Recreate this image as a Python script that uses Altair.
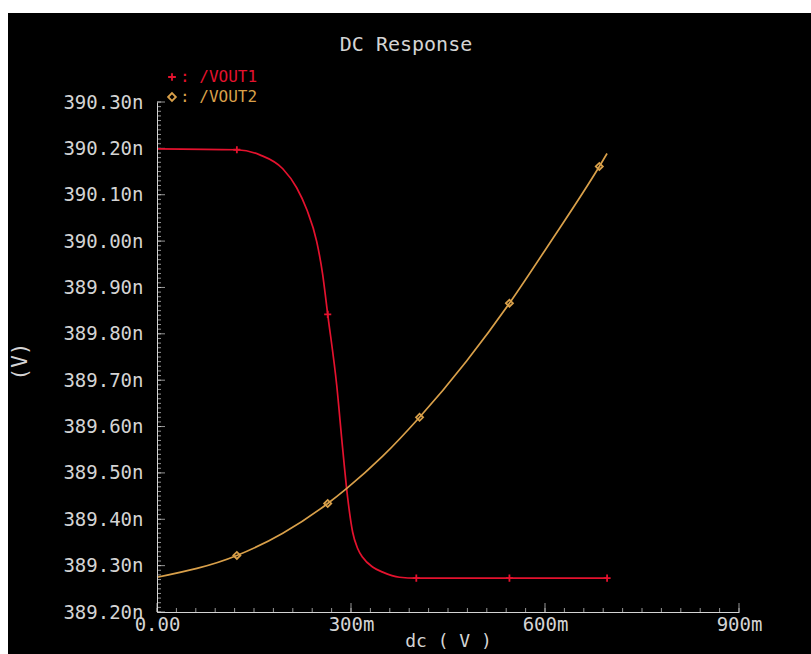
import altair as alt
import pandas as pd

# ---- data ----
dc_vout1 = [0.0, 0.1235, 0.159, 0.1945, 0.216, 0.2316, 0.247, 0.256, 0.264, 0.278,
            0.287, 0.2948, 0.3026, 0.3103, 0.318, 0.3334, 0.349, 0.375, 0.401, 0.545, 0.696]
vout1 = [390.199, 390.197, 390.186, 390.156, 390.115, 390.068, 389.999, 389.930, 389.842, 389.688,
         389.554, 389.447, 389.372, 389.337, 389.318, 389.297, 389.286, 389.275, 389.273, 389.273,
         389.273]
marker_vout1 = [0, 1, 0, 0, 0, 0, 0, 0, 1, 0, 0, 0, 0, 0, 0, 0, 0, 0, 1, 1, 1]

dc_vout2 = [0.0, 0.1235, 0.1945, 0.264, 0.293, 0.349, 0.406, 0.4785, 0.545, 0.607, 0.684, 0.696]
vout2 = [389.275, 389.322, 389.370, 389.434, 389.466, 389.536, 389.620, 389.741, 389.866, 389.995,
         390.161, 390.189]
marker_vout2 = [0, 1, 0, 1, 0, 0, 1, 0, 1, 0, 1, 0]

series_names = ["/VOUT1", "/VOUT2"]
series_colors = ["#e4122e", "#d9a04a"]
series_shapes = ["M-1,0H1M0,-1V1", "diamond"]

x_major = [0.0, 0.3, 0.6, 0.9]
x_minor = [round(0.03 * i, 2) for i in range(31)]
y_major = [389.20, 389.30, 389.40, 389.50, 389.60, 389.70, 389.80, 389.90,
           390.00, 390.10, 390.20, 390.30]
y_minor = [round(389.20 + 0.01 * i, 2) for i in range(111)]

chart_title = "DC Response"

# ---- tables ----
df = pd.concat([
    pd.DataFrame({"series": series_names[0], "dc": dc_vout1, "v": vout1, "marker": marker_vout1}),
    pd.DataFrame({"series": series_names[1], "dc": dc_vout2, "v": vout2, "marker": marker_vout2}),
], ignore_index=True)

FONT = "DejaVu Sans Mono"
GREY = "#d4d4d4"
FS = 19
W, H = 582, 510
PAD = {"left": 157, "top": 102, "right": 72, "bottom": 42}

xscale = alt.Scale(domain=[0, 0.9], nice=False, zero=False)
yscale = alt.Scale(domain=[389.2, 390.3], nice=False, zero=False)
cscale = alt.Scale(domain=series_names, range=series_colors)
sscale = alt.Scale(domain=series_names, range=series_shapes)

x_axis = alt.Axis(values=x_major, grid=False, ticks=False, domainColor=GREY, zindex=2,
                  labelFlush=False, labelOverlap=False,
                  labelExpr="datum.value == 0 ? '0.00' : format(datum.value * 1000, '.0f') + 'm'",
                  labelColor=GREY, labelFont=FONT, labelFontSize=FS, labelPadding=3,
                  title="dc ( V )", titleColor=GREY, titleFont=FONT, titleFontSize=18,
                  titleFontWeight="normal", titlePadding=-2)
y_axis = alt.Axis(values=y_major, grid=False, ticks=False, domainColor=GREY, zindex=2,
                  labelFlush=False, labelOverlap=False,
                  labelExpr="format(datum.value, '.2f') + 'n'",
                  labelColor=GREY, labelFont=FONT, labelFontSize=FS, labelPadding=14,
                  title="(V)", titleColor=GREY, titleFont=FONT, titleFontSize=21,
                  titleFontWeight="normal", titleAngle=-90, titleX=-137, titleY=H / 2 + 4,
                  titleAlign="center", titleBaseline="middle")

background = alt.Chart(pd.DataFrame({"a": [0]})).mark_rect(color="#000000").encode(
    x=alt.value(8 - PAD["left"]), x2=alt.value(811 - PAD["left"]),
    y=alt.value(13 - PAD["top"]), y2=alt.value(654 - PAD["top"]),
)

title_text = alt.Chart(pd.DataFrame({"t": [chart_title]})).mark_text(
    font=FONT, fontSize=20, color=GREY, align="center", baseline="middle").encode(
    text="t:N", x=alt.value(406 - PAD["left"]), y=alt.value(45 - PAD["top"]))

# legend (Cadence style: symbol, colon, trace name)
legend_layers = []
for i, name in enumerate(series_names):
    ly = 77 + 20 * i - PAD["top"]
    legend_layers.append(
        alt.Chart(pd.DataFrame({"s": [name]})).mark_point(
            filled=False, size=60, strokeWidth=1.8, opacity=1).encode(
            x=alt.value(172 - PAD["left"]), y=alt.value(ly),
            color=alt.Color("s:N", scale=cscale, legend=None),
            shape=alt.Shape("s:N", scale=sscale, legend=None)))
    legend_layers.append(
        alt.Chart(pd.DataFrame({"s": [name]})).mark_text(
            font=FONT, fontSize=16, align="left", baseline="middle").encode(
            text=alt.Text("lab:N"), x=alt.value(180 - PAD["left"]), y=alt.value(ly),
            color=alt.Color("s:N", scale=cscale, legend=None)
        ).transform_calculate(lab="': ' + datum.s"))

base = alt.Chart(df)

lines = base.mark_line(strokeWidth=1.7, interpolate="monotone").encode(
    x=alt.X("dc:Q", scale=xscale, axis=x_axis),
    y=alt.Y("v:Q", scale=yscale, axis=y_axis),
    color=alt.Color("series:N", scale=cscale, legend=None),
    detail="series:N",
)

points = base.transform_filter("datum.marker == 1").mark_point(
    filled=False, size=50, strokeWidth=1.8, opacity=1).encode(
    x=alt.X("dc:Q", scale=xscale),
    y=alt.Y("v:Q", scale=yscale),
    color=alt.Color("series:N", scale=cscale, legend=None),
    shape=alt.Shape("series:N", scale=sscale, legend=None),
)

xt_minor = alt.Chart(pd.DataFrame({"t": x_minor})).mark_tick(
    orient="vertical", size=4, thickness=1, yOffset=-2, color=GREY).encode(
    x=alt.X("t:Q", scale=xscale), y=alt.datum(389.2))
xt_major = alt.Chart(pd.DataFrame({"t": x_major})).mark_tick(
    orient="vertical", size=9, thickness=1, yOffset=-4.5, color=GREY).encode(
    x=alt.X("t:Q", scale=xscale), y=alt.datum(389.2))
yt_minor = alt.Chart(pd.DataFrame({"t": y_minor})).mark_tick(
    orient="horizontal", size=4, thickness=1, xOffset=2, color=GREY).encode(
    y=alt.Y("t:Q", scale=yscale), x=alt.datum(0))
yt_major = alt.Chart(pd.DataFrame({"t": y_major})).mark_tick(
    orient="horizontal", size=8, thickness=1, xOffset=4, color=GREY).encode(
    y=alt.Y("t:Q", scale=yscale), x=alt.datum(0))

chart = alt.layer(background, title_text, *legend_layers, xt_minor, xt_major, yt_minor, yt_major,
                  lines, points).properties(
    width=W, height=H,
    background="#ffffff",
    padding=PAD,
    autosize=alt.AutoSizeParams(type="none"),
).configure_view(stroke=None)

chart.save("out.html", embed_options={"renderer": "svg", "actions": False})
